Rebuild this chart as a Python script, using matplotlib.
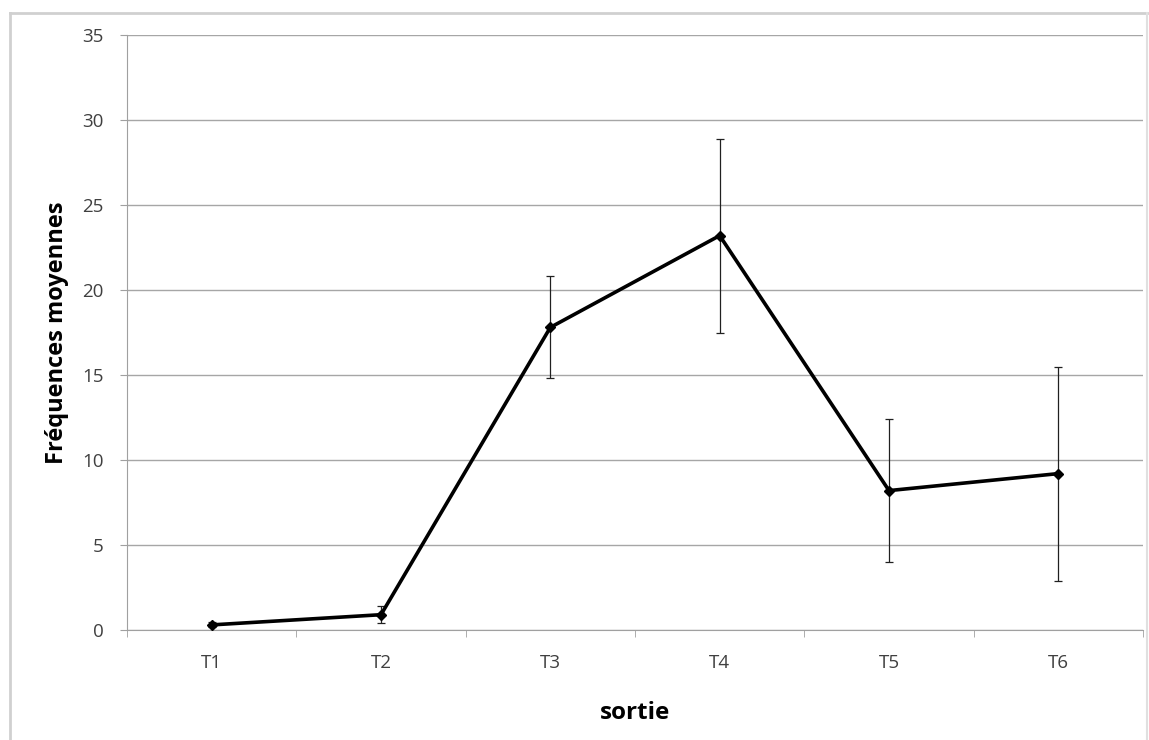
import matplotlib
matplotlib.use("Agg")
import matplotlib.pyplot as plt
from matplotlib.lines import Line2D

categories = ["T1", "T2", "T3", "T4", "T5", "T6"]
means = [0.3, 0.9, 17.8, 23.2, 8.2, 9.2]
errors = [0.15, 0.5, 3.0, 5.7, 4.2, 6.3]
yticks = [0, 5, 10, 15, 20, 25, 30, 35]

plt.rcParams['font.family'] = ['Open Sans', 'DejaVu Sans']

W, H = 1149, 740
fig = plt.figure(figsize=(W / 100, H / 100), dpi=100)
ax = fig.add_axes([127 / W, 1 - 630 / H, (1143 - 127) / W, (630 - 35) / H])

x = list(range(len(categories)))
ax.errorbar(x, means, yerr=errors, color='black', lw=2.6, marker='D', ms=5.5,
            ecolor='#202020', elinewidth=0.9, capsize=3, capthick=0.9, zorder=3)

ax.set_xlim(-0.5, len(categories) - 0.5)
ax.set_ylim(0, 35)
ax.set_yticks(yticks)
ax.set_yticklabels([str(v) for v in yticks], fontsize=13.5, color='#404040')
ax.set_xticks(x)
ax.set_xticklabels(categories, fontsize=13.5, color='#404040')
ax.set_xticks([i - 0.5 for i in range(len(categories) + 1)], minor=True)
ax.tick_params(axis='x', which='major', length=0, pad=17)
ax.tick_params(axis='x', which='minor', length=5, color='#a0a0a0', direction='out')
ax.tick_params(axis='y', length=5, color='#a0a0a0', pad=12)
ax.grid(axis='y', color='#a6a6a6', lw=1.0)
ax.set_axisbelow(True)
for s in ['top', 'right']:
    ax.spines[s].set_visible(False)
ax.spines['left'].set_color('#a0a0a0')
ax.spines['bottom'].set_color('#a0a0a0')

ax.set_ylabel("Fréquences moyennes", fontsize=17, fontweight='bold', labelpad=9)
ax.set_xlabel("sortie", fontsize=17.5, fontweight='bold', labelpad=21)

# outer chart-area border
fig.add_artist(Line2D([10 / W, 10 / W], [0, 1 - 13 / H], transform=fig.transFigure, color='#d0d0d0', lw=2))
fig.add_artist(Line2D([10 / W, 1147 / W], [1 - 13 / H, 1 - 13 / H], transform=fig.transFigure, color='#d0d0d0', lw=2))
fig.add_artist(Line2D([1147 / W, 1147 / W], [0, 1 - 13 / H], transform=fig.transFigure, color='#e0e0e0', lw=1.5))

fig.savefig("out.png", dpi=100)
